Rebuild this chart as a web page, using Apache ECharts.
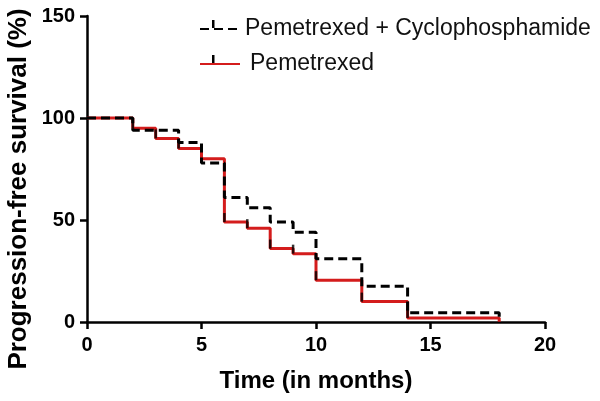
<!DOCTYPE html>
<html>
<head>
<meta charset="utf-8">
<script src="https://cdn.jsdelivr.net/npm/echarts@6/dist/echarts.min.js"></script>
<style>
html,body{margin:0;padding:0;background:#fff;}
#chart{width:600px;height:401px;}
</style>
</head>
<body>
<div id="chart"></div>
<script>
// Kaplan-Meier step data (time in months, survival %)
var comboTimes = [0, 2, 4, 5, 6, 7, 8, 9, 10, 12, 14, 18, 18];
var comboValues = [100, 94, 88, 78, 61, 56, 49, 44, 31, 17.5, 4.5, 4.5, 0];
var pemTimes = [0, 2, 3, 4, 5, 6, 7, 8, 9, 10, 12, 14, 18, 18];
var pemValues = [100, 95, 90, 85, 80, 49, 46, 36, 33.5, 20.5, 10, 2, 2, 0];
// censor-style tick marks on Pemetrexed curve
var pemTickTimes = [2, 3, 4, 6, 7, 8, 9, 10, 12, 14];
var pemTickValues = [95, 90, 85, 49, 46, 36, 33.5, 20.5, 10, 2];
var seriesNames = ['Pemetrexed + Cyclophosphamide', 'Pemetrexed'];
var xTicks = {min: 0, max: 20, interval: 5};
var yTicks = {min: 0, max: 150, interval: 50};

function pairs(xs, ys) { return xs.map(function (x, i) { return [x, ys[i]]; }); }

var chart = echarts.init(document.getElementById('chart'), null, {renderer: 'canvas'});
var axisCommon = {
  axisLine: {show: true, lineStyle: {color: '#000', width: 2.5}},
  axisTick: {show: true, inside: false, length: 7, lineStyle: {color: '#000', width: 2.5}},
  splitLine: {show: false},
  axisLabel: {color: '#000', fontFamily: 'Liberation Sans', fontWeight: 'bold', fontSize: 20}
};
chart.setOption({
  animation: false,
  backgroundColor: '#fff',
  grid: {left: 87, right: 55, top: 16, bottom: 79, containLabel: false},
  legend: {
    orient: 'vertical', left: 194, top: 12, itemGap: 11,
    itemWidth: 40, itemHeight: 14,
    data: [
      {name: seriesNames[0]},
      {name: seriesNames[1], textStyle: {padding: [0, 0, 0, 5]}}
    ],
    itemStyle: {color: 'transparent', borderColor: 'transparent', borderWidth: 0},
    textStyle: {fontFamily: 'Liberation Sans', fontSize: 23, color: '#111', lineHeight: 24}
  },
  xAxis: Object.assign({}, axisCommon, {
    type: 'value', min: xTicks.min, max: xTicks.max, interval: xTicks.interval,
    name: 'Time (in months)', nameLocation: 'middle', nameGap: 47,
    nameTextStyle: {fontFamily: 'Liberation Sans', fontWeight: 'bold', fontSize: 24, color: '#000'},
    axisLabel: Object.assign({}, axisCommon.axisLabel, {margin: 13})
  }),
  yAxis: Object.assign({}, axisCommon, {
    type: 'value', min: yTicks.min, max: yTicks.max, interval: yTicks.interval,
    axisLabel: Object.assign({}, axisCommon.axisLabel, {margin: 12})
  }),
  graphic: [
    {type: 'text', rotation: Math.PI / 2,
     x: 19, y: 189,
     style: {text: 'Progression-free survival (%)', fontFamily: 'Liberation Sans', fontWeight: 'bold', fontSize: 26, fill: '#000', textAlign: 'center', textVerticalAlign: 'middle'}},
    // legend tick marks
    {type: 'rect', shape: {x: 212, y: 20, width: 2.5, height: 8}, style: {fill: '#000'}},
    {type: 'rect', shape: {x: 212, y: 55, width: 2.5, height: 8}, style: {fill: '#000'}}
  ],
  series: [
    {
      name: seriesNames[1], type: 'line', step: 'end', symbol: 'none',
      data: pairs(pemTimes, pemValues),
      lineStyle: {color: '#d41c1c', width: 3}, itemStyle: {color: '#d41c1c'}, z: 2
    },
    {
      name: seriesNames[0], type: 'line', step: 'end', symbol: 'none',
      data: pairs(comboTimes, comboValues),
      lineStyle: {color: '#000', width: 3, type: [9, 5]}, itemStyle: {color: '#000'}, z: 3
    },
    {
      name: 'ticks', type: 'scatter', symbol: 'rect', symbolSize: [2.5, 9], symbolOffset: [0, -4.5],
      data: pairs(pemTickTimes, pemTickValues), itemStyle: {color: '#000'}, z: 4, silent: true
    }
  ]
});
</script>
</body>
</html>
